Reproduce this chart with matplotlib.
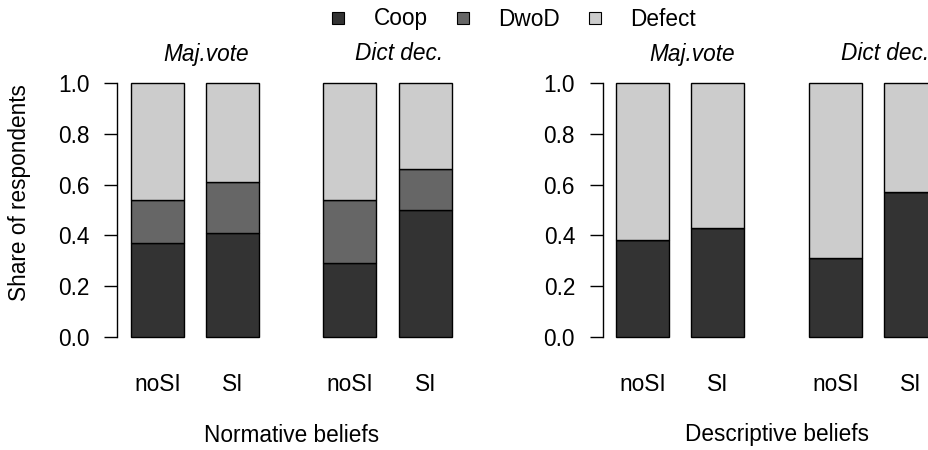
import matplotlib
matplotlib.use("Agg")
from matplotlib import pyplot as plt
from matplotlib.lines import Line2D

plt.rcParams['font.family'] = ['Liberation Sans', 'DejaVu Sans']

# data
conditions = ['noSI', 'SI', 'noSI', 'SI']
groups = ['Maj.vote', 'Dict dec.']
panels = ['Normative beliefs', 'Descriptive beliefs']
categories = ['Coop', 'DwoD', 'Defect']

norm_coop = [0.37, 0.41, 0.29, 0.50]
norm_dwod = [0.17, 0.20, 0.25, 0.16]
norm_defect = [0.46, 0.39, 0.46, 0.34]

desc_coop = [0.38, 0.43, 0.31, 0.57]
desc_dwod = [0.0, 0.0, 0.0, 0.0]
desc_defect = [0.62, 0.57, 0.69, 0.43]

yticks = [0.0, 0.2, 0.4, 0.6, 0.8, 1.0]

colors = ['#333333', '#666666', '#cccccc']

# layout (pixels in a 929x450 figure)
W, H = 929, 450
fig = plt.figure(figsize=(W / 100, H / 100), dpi=100)

xpos = [0.755, 2.17, 4.39, 5.81]
unit = 53.0
ax_w = unit * 6.5
y0, y1 = 337, 83
FS = 16.3

panel_data = [(norm_coop, norm_dwod, norm_defect), (desc_coop, desc_dwod, desc_defect)]
lefts = [117.3, 602.7]

for k, (left, series) in enumerate(zip(lefts, panel_data)):
    ax = fig.add_axes([left / W, (H - y0) / H, ax_w / W, (y0 - y1) / H])
    bottom = [0.0] * 4
    for vals, col in zip(series, colors):
        ax.bar(xpos, vals, width=1.0, bottom=bottom, color=col,
               edgecolor='black', linewidth=1.0, clip_on=False)
        bottom = [b + v for b, v in zip(bottom, vals)]
    ax.set_xlim(0, 6.5)
    ax.set_ylim(0, 1)
    for s in ['top', 'right', 'bottom']:
        ax.spines[s].set_visible(False)
    ax.spines['left'].set_linewidth(1.0)
    ax.set_yticks(yticks)
    ax.set_yticklabels(['%.1f' % t for t in yticks])
    ax.tick_params(axis='y', length=9.4, width=1.0, pad=10.5, labelsize=FS)
    ax.set_xticks(xpos)
    ax.set_xticklabels(conditions)
    ax.tick_params(axis='x', length=0, pad=26, labelsize=FS)
    trans = ax.get_xaxis_transform()
    for g, name in enumerate(groups):
        cx = (xpos[2 * g] + xpos[2 * g + 1]) / 2 + 0.22
        ax.text(cx, (y0 - 54) / (y0 - y1), name, transform=trans,
                ha='center', va='center', fontsize=FS, style='italic')
    ax.text((xpos[0] + xpos[3]) / 2, (y0 - 435) / (y0 - y1), panels[k],
            transform=trans, ha='center', va='center', fontsize=FS)

fig.text(20 / W, 1 - 193 / H, 'Share of respondents', rotation=90,
         ha='center', va='center', fontsize=FS)

handles = [Line2D([], [], linestyle='none', marker='s', markersize=8,
                  markerfacecolor=c, markeredgecolor='black', markeredgewidth=0.8)
           for c in colors]
fig.legend(handles, categories, loc='center', bbox_to_anchor=(514 / W, 1 - 19 / H),
           ncol=3, frameon=False, fontsize=FS, handlelength=0.5,
           handletextpad=1.3, columnspacing=1.3, borderpad=0, borderaxespad=0)

fig.savefig('out.png', dpi=100)
